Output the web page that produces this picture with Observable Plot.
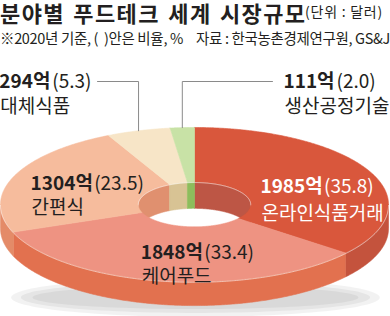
<!DOCTYPE html>
<html><head><meta charset="utf-8">
<script src="https://cdn.jsdelivr.net/npm/d3@7"></script>
<script src="https://cdn.jsdelivr.net/npm/@observablehq/plot@0.6"></script>
<style>
body{margin:0;background:#fff;width:390px;height:316px;overflow:hidden;font-family:"Noto Sans CJK KR",sans-serif;color:#231f20}
#hdr{position:relative;height:52px;line-height:1;white-space:nowrap}
#hdr div{position:absolute;white-space:nowrap}
#title{left:0;top:0;font-size:22px;line-height:24px;font-weight:700;letter-spacing:1.4px;word-spacing:2px}
#unit{left:305px;top:4px;font-size:14px}
#sub1{left:0;top:31px;font-size:14.5px;letter-spacing:-0.5px}
#sub2{left:196px;top:31px;font-size:14.5px;letter-spacing:-0.1px}
#chart svg{display:block}
g[aria-label="lbl-num"] text, g[aria-label="lbl-pct"] text{letter-spacing:-0.6px}
g[aria-label="lbl-kr"] text{letter-spacing:-1.7px}
</style></head>
<body>
<div id="hdr">
  <div id="title">분야별 푸드테크 세계 시장규모</div>
  <div id="unit">(단위 : 달러)</div>
  <div id="sub1">※2020년 기준, (&nbsp;&nbsp;)안은 비율, %</div>
  <div id="sub2">자료 : 한국농촌경제연구원, GS&amp;J</div>
</div>
<div id="chart"></div>
<script>
// ---- data ----
const categories = ["온라인식품거래", "케어푸드", "간편식", "대체식품", "생산공정기술"];
const values = [1985, 1848, 1304, 294, 111];          // 억 달러
const shares = [35.8, 33.4, 23.5, 5.3, 2.0];          // %
// ---- palette ----
const topColors   = ["#d9573c", "#ee9382", "#f6bc9d", "#f7e5c7", "#c8e2a6"];
const wallColors  = ["#c4533d", "#e2714f", "#e48b68", "#e0cca0", "#8dbd5c"];
const innerColors = ["#bd5645", "#d97d63", "#e0906f", "#d8c394", "#8dbd5c"];
const textColors  = ["#ffffff", "#231f20", "#231f20", "#231f20", "#231f20"];
// ---- layout ----
const W = 390, H = 264, K = 194, CX = 194, CY = 152;
const TILT = 0.397, RI = 0.29, DEPTH = 0.124, INNER_DEPTH = 0.135;
const labelRadius = 0.65;
const labelNudge = [[7, 9.6], [20.7, 4.6], [8.4, 3.3]];   // px, inside labels
const lineGap = [27, 24, 24, 25, 25];
const leaderRowY = 29;            // px
const leaderEnd = [null, null, null, -0.5, 0.402];  // world x of leader end
const FS = 19, LS_NUM = -0.6;

// fit small header texts to their widths in the reference
function fit(id, target) {
  const el = document.getElementById(id);
  const n = [...el.textContent].length;
  const w = el.getBoundingClientRect().width;
  const cur = parseFloat(getComputedStyle(el).letterSpacing) || 0;
  el.style.letterSpacing = (cur + (target - w) / n) + "px";
}
fit("unit", 78); fit("sub1", 183); fit("sub2", 194);

const total = d3.sum(values);
let acc = 0;
const slices = values.map((v, i) => {
  const a0 = acc / total * 2 * Math.PI; acc += v;
  const a1 = acc / total * 2 * Math.PI;
  return {i, a0, a1, mid: (a0 + a1) / 2};
});
const P = (a, r, dz = 0) => ({x: r * Math.sin(a), y: -r * Math.cos(a) * TILT + dz});
function arc(a0, a1, r, dz = 0) {
  const n = Math.max(2, Math.ceil(Math.abs(a1 - a0) / (Math.PI / 360)));
  return d3.range(n + 1).map(j => P(a0 + (a1 - a0) * j / n, r, dz));
}
const tops = [], outer = [], inner = [], shadow = [], hl = [];
slices.forEach(s => {
  const pts = arc(s.a0, s.a1, 1).concat(arc(s.a1, s.a0, RI));
  pts.push(pts[0]);
  pts.forEach(p => tops.push({...p, id: "t" + s.i, color: topColors[s.i]}));
  const st = Math.max(s.a0, Math.PI / 2), en = Math.min(s.a1, 3 * Math.PI / 2);
  if (st < en) {
    const w = arc(st, en, 1).concat(arc(en, st, 1, DEPTH));
    w.push(w[0]);
    w.forEach(p => outer.push({...p, id: "o" + s.i, color: wallColors[s.i]}));
  }
  [[0, Math.PI / 2], [3 * Math.PI / 2, 2 * Math.PI]].forEach(([r0, r1], q) => {
    const a = Math.max(s.a0, r0), b = Math.min(s.a1, r1);
    if (a < b) {
      const w = arc(a, b, RI).concat(arc(b, a, RI, INNER_DEPTH));
      w.push(w[0]);
      w.forEach(p => inner.push({...p, id: "i" + s.i + q, color: innerColors[s.i]}));
    }
  });
});
// ground shadow
[[0.95, 0.1], [0.9, 0.08], [0.84, 0.06]].forEach(([rx, ry], j) => {
  d3.range(0, 361, 3).forEach(d => {
    const a = d * Math.PI / 180;
    shadow.push({x: 0.005 + rx * Math.sin(a), y: 0.479 + ry * Math.cos(a), id: "s" + j});
  });
});
// highlights
arc(Math.PI / 2, 3 * Math.PI / 2, 1, 0.004).forEach(p => hl.push({...p, id: "h1"}));
arc(-Math.PI / 2, Math.PI / 2, RI, 0.002).forEach(p => hl.push({...p, id: "h2"}));

// ---- labels ----
const ctx = document.createElement("canvas").getContext("2d");
function tw(str, weight) {
  ctx.font = `${weight} ${FS}px "Noto Sans CJK KR"`;
  return ctx.measureText(str).width + LS_NUM * [...str].length;
}
const toWx = px => (px - CX) / K, toWy = py => (py - CY) / K;
const numT = [], pctT = [], krT = [], leaders = [];
slices.forEach(s => {
  const i = s.i;
  const bold = values[i] + "억";
  const reg = "(" + shares[i].toFixed(1) + ")";
  const wb = tw(bold, 700), wsp = tw(" ", 400) - LS_NUM, wr = tw(reg, 400);
  const wTot = wb + wsp + wr;
  let left, base;
  if (i < 3) {
    const c = P(s.mid, labelRadius);
    const cx = CX + c.x * K + labelNudge[i][0];
    base = CY + c.y * K + labelNudge[i][1];
    left = cx - wTot / 2;
  } else {
    const e = P(s.mid, 1);
    const ex = leaderEnd[i];
    leaders.push({x: e.x, y: e.y, id: "l" + i});
    leaders.push({x: e.x, y: toWy(leaderRowY), id: "l" + i});
    leaders.push({x: ex, y: toWy(leaderRowY), id: "l" + i});
    const exp = CX + ex * K;
    left = ex < e.x ? exp - 9 - wTot : exp + 11;
    base = leaderRowY + 6;
  }
  numT.push({x: toWx(left), y: toWy(base), t: bold, c: textColors[i]});
  pctT.push({x: toWx(left + wb + wsp), y: toWy(base), t: reg, c: textColors[i]});
  krT.push({x: toWx(left + 1), y: toWy(base + lineGap[i]), t: categories[i], c: textColors[i]});
});

const font = '"Noto Sans CJK KR", sans-serif';
const chart = Plot.plot({
  width: W, height: H, margin: 0,
  x: {domain: [-1, 1], range: [0, 388], axis: null},
  y: {domain: [toWy(0), toWy(H)], range: [0, H], axis: null},
  color: {type: "identity"},
  style: {background: "#fff", overflow: "visible"},
  marks: [
    Plot.line(shadow, {x: "x", y: "y", z: "id", fill: "#000", fillOpacity: 0.05, stroke: "none"}),
    Plot.line(outer, {x: "x", y: "y", z: "id", fill: "color", stroke: "color", strokeWidth: 0.6}),
    Plot.line(inner, {x: "x", y: "y", z: "id", fill: "color", stroke: "color", strokeWidth: 0.6}),
    Plot.line(tops, {x: "x", y: "y", z: "id", fill: "color", stroke: "color", strokeWidth: 0.6}),
    Plot.line(hl, {x: "x", y: "y", z: "id", stroke: "#fff", strokeOpacity: 0.55, strokeWidth: 1}),
    Plot.line(leaders, {x: "x", y: "y", z: "id", stroke: "#8a8a8a", strokeWidth: 1}),
    Plot.text(numT, {x: "x", y: "y", text: "t", fill: "c", textAnchor: "start", lineAnchor: "bottom",
      fontSize: FS, fontWeight: 700, fontFamily: font, ariaLabel: "lbl-num"}),
    Plot.text(pctT, {x: "x", y: "y", text: "t", fill: "c", textAnchor: "start", lineAnchor: "bottom",
      fontSize: FS, fontWeight: 400, fontFamily: font, ariaLabel: "lbl-pct"}),
    Plot.text(krT, {x: "x", y: "y", text: "t", fill: "c", textAnchor: "start", lineAnchor: "bottom",
      fontSize: FS, fontWeight: 400, fontFamily: font, ariaLabel: "lbl-kr"})
  ]
});
document.getElementById("chart").appendChild(chart);
</script>
</body></html>
